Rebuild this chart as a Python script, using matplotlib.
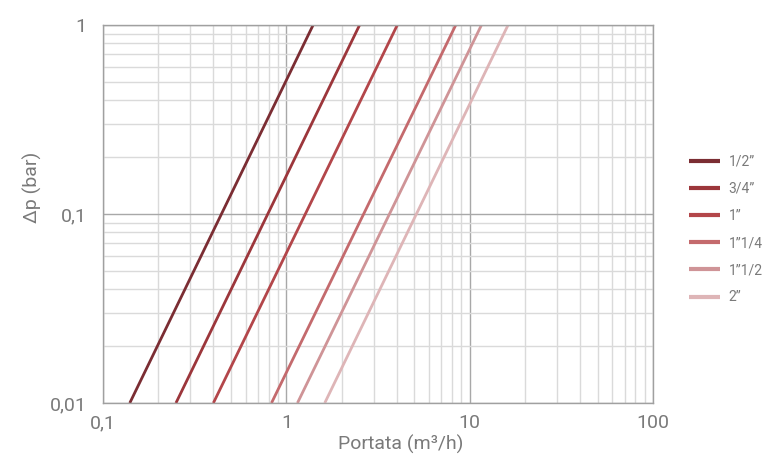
import matplotlib
matplotlib.use("Agg")
import matplotlib.pyplot as plt
from matplotlib.ticker import FixedLocator, NullFormatter, LogLocator

plt.rcParams['font.family'] = ['Roboto', 'DejaVu Sans']

# Pressure drop endpoints (bar) and matching flow rates (m3/h)
dp = [0.01, 1.0]
sizes = ["1/2\u201d", "3/4\u201d", "1\u201d", "1\u201d1/4", "1\u201d1/2", "2\u201d"]
flow_low = [0.140, 0.250, 0.400, 0.830, 1.150, 1.620]
flow_high = [1.40, 2.51, 4.03, 8.40, 11.6, 16.2]
colors = ["#7b2d33", "#9c363b", "#b3464a", "#c46a6d", "#cf9497", "#deb5b7"]

x_ticks = [0.1, 1, 10, 100]
x_labels = ["0,1", "1", "10", "100"]
y_ticks = [0.01, 0.1, 1]
y_labels = ["0,01", "0,1", "1"]

text_color = "#7a7a7a"

fig = plt.figure(figsize=(7.63, 4.61), dpi=100)
ax = fig.add_axes([103 / 763, 1 - 403 / 461, 550 / 763, 378 / 461])

for name, q0, q1, c in zip(sizes, flow_low, flow_high, colors):
    ax.plot([q0, q1], dp, color=c, linewidth=2.0, label=name,
            solid_capstyle="butt")

ax.set_xscale("log")
ax.set_yscale("log")
ax.set_xlim(0.1, 100)
ax.set_ylim(0.01, 1)

ax.xaxis.set_major_locator(FixedLocator(x_ticks))
ax.set_xticklabels(x_labels)
ax.yaxis.set_major_locator(FixedLocator(y_ticks))
ax.set_yticklabels(y_labels)
ax.xaxis.set_minor_locator(LogLocator(base=10, subs=range(2, 10)))
ax.yaxis.set_minor_locator(LogLocator(base=10, subs=range(2, 10)))
ax.xaxis.set_minor_formatter(NullFormatter())
ax.yaxis.set_minor_formatter(NullFormatter())

ax.grid(True, which="minor", color="#dadada", linewidth=1.0)
ax.grid(True, which="major", color="#a8a8a8", linewidth=1.0)
ax.set_axisbelow(True)

ax.tick_params(which="both", length=0, labelsize=14, labelcolor=text_color)
ax.tick_params(axis="x", pad=8)
ax.tick_params(axis="y", pad=12)
for s in ax.spines.values():
    s.set_color("#a0a0a0")
    s.set_linewidth(1.0)

ax.set_xlabel("Portata (m\u00b3/h)", fontsize=14, color=text_color)
ax.xaxis.set_label_coords(0.542, -0.085)
ax.set_ylabel("\u0394p (bar)", fontsize=14, color=text_color)
ax.yaxis.set_label_coords(-0.11, 0.57)

leg = fig.legend(loc="upper left", bbox_to_anchor=(676 / 763, 1 - 142 / 461),
                 frameon=False, fontsize=10, handlelength=2.3,
                 handletextpad=0.6, labelspacing=0.95, labelcolor=text_color)
for h in leg.get_lines():
    h.set_linewidth(3.0)

fig.savefig("out.png", dpi=100)
